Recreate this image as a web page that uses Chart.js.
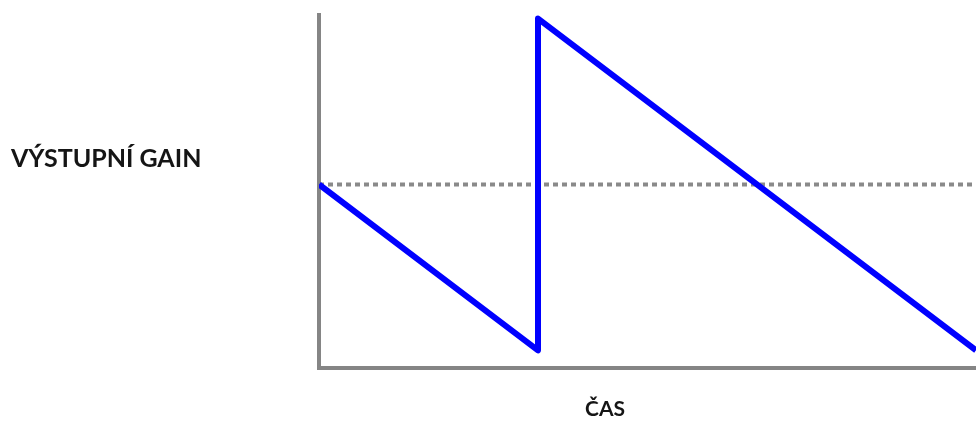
<!DOCTYPE html>
<html>
<head>
<meta charset="utf-8">
<script src="https://cdn.jsdelivr.net/npm/chart.js@4"></script>
<style>
  html, body { margin: 0; padding: 0; background: #ffffff; }
  canvas { display: block; }
</style>
</head>
<body>
<canvas id="chart" width="976" height="421"></canvas>
<script>
// data
const timeX = [0, 1, 1, 3];
const gainY = [52, 5, 99, 5];
const thresholdX = [0, 3];
const thresholdY = [52, 52];
const yLabel = 'VÝSTUPNÍ GAIN';
const xLabel = 'ČAS';

const toPoints = (xs, ys) => xs.map((x, i) => ({ x, y: ys[i] }));

// axis labels drawn horizontally, like the original
const axisLabels = {
  id: 'axisLabels',
  afterDraw(chart) {
    const { ctx, chartArea } = chart;
    ctx.save();
    ctx.fillStyle = '#151515';
    ctx.textBaseline = 'alphabetic';
    ctx.textAlign = 'left';
    ctx.font = "bold 25px Lato, 'DejaVu Sans', sans-serif";
    ctx.fillText(yLabel, 11, 167);
    ctx.textAlign = 'center';
    ctx.font = "bold 21px Lato, 'DejaVu Sans', sans-serif";
    ctx.fillText(xLabel, 605, chartArea.bottom + 48);
    ctx.restore();
  }
};

const axisLine = { display: true, color: '#858585', width: 4 };

new Chart(document.getElementById('chart'), {
  type: 'line',
  data: {
    datasets: [
      {
        data: toPoints(timeX, gainY),
        borderColor: '#0000ff',
        borderWidth: 6,
        borderJoinStyle: 'round',
        pointRadius: 0,
        tension: 0,
        order: 1
      },
      {
        data: toPoints(thresholdX, thresholdY),
        borderColor: '#8a8a8a',
        borderWidth: 4,
        borderDash: [5, 4],
        pointRadius: 0,
        order: 2
      }
    ]
  },
  options: {
    responsive: false,
    animation: false,
    devicePixelRatio: 1,
    layout: { padding: { left: 319, top: 15, right: 0, bottom: 53 } },
    scales: {
      x: {
        type: 'linear',
        min: 0,
        max: 3,
        ticks: { display: false },
        grid: { display: false, drawTicks: false },
        border: axisLine
      },
      y: {
        min: 0,
        max: 100,
        ticks: { display: false },
        grid: { display: false, drawTicks: false },
        border: axisLine
      }
    },
    plugins: {
      legend: { display: false },
      tooltip: { enabled: false }
    }
  },
  plugins: [axisLabels]
});
</script>
</body>
</html>
